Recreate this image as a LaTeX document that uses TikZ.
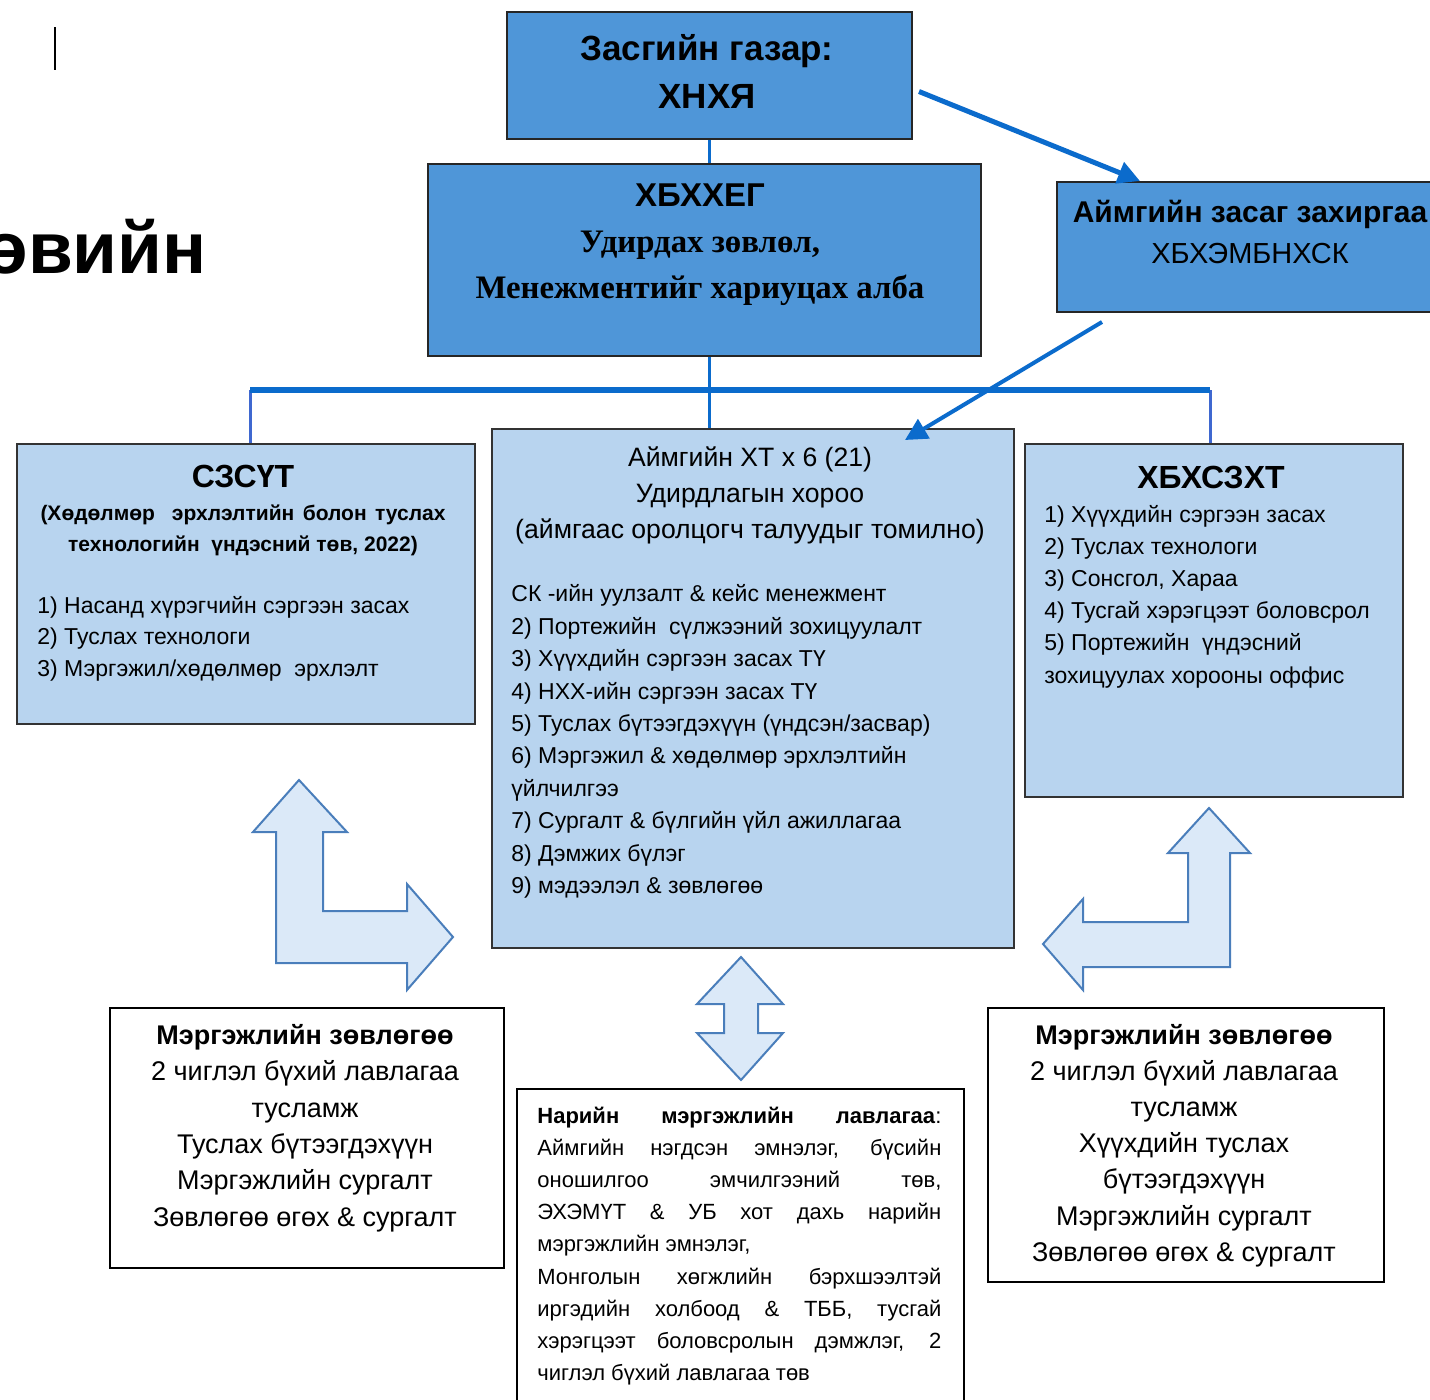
\documentclass[tikz,border=0pt]{standalone}
\usepackage{fontspec}
\setmainfont{Liberation Sans}
\newfontfamily\timesfont{Liberation Serif}
\usetikzlibrary{positioning,calc,arrows.meta}

\definecolor{govblue}{HTML}{4F96D8}
\definecolor{unitblue}{HTML}{B8D4EF}
\definecolor{linkblue}{HTML}{0B6BCC}
\definecolor{dropblue}{HTML}{3F68D0}
\definecolor{bendfill}{HTML}{DBE9F8}
\definecolor{benddraw}{HTML}{4A7EBB}

\newcommand{\fullline}[1]{\makebox[202pt][s]{#1}}

\tikzset{
  govbox/.style={draw=black!85, line width=1pt, fill=govblue, anchor=north west, inner sep=0pt},
  unitbox/.style={draw=black!80, line width=1pt, fill=unitblue, anchor=north west, inner sep=0pt},
  helpbox/.style={draw=black, line width=1pt, fill=white, anchor=north west, inner sep=0pt},
  link/.style={draw=linkblue, line width=1.5pt},
  drop/.style={draw=dropblue, line width=1.5pt},
  bus/.style={draw=linkblue, line width=2.75pt},
  feed/.style={draw=linkblue, line width=2.5pt, -{Triangle[length=11pt,width=11pt]}},
  bendarrow/.style={fill=bendfill, draw=benddraw, line width=1pt, line join=miter},
  txt/.style={inner sep=0pt, align=center},
  listtxt/.style={inner sep=0pt, align=left, anchor=west, font=\fontsize{11.5}{16.2}\selectfont},
}

\begin{document}
\begin{tikzpicture}[x=0.5pt,y=-0.5pt]
\fill[white] (0,0) rectangle (1430,1399);
\useasboundingbox (0,0) rectangle (1430,1399);

% slide remains on the left
\draw[line width=1pt] (55,27) -- (55,70);
\node[anchor=base west, inner sep=0pt, font=\bfseries\fontsize{36.5}{40}\selectfont] (heading) at (-17,273) {өвийн};

% upper level
\node[govbox, minimum width=202.5pt, minimum height=63.5pt] (gov) at (506,11) {};
\node[txt, font=\bfseries\fontsize{17.5}{24}\selectfont] (govtxt) at (707,71) {Засгийн газар:\\ХНХЯ};

\node[govbox, minimum width=276.5pt, minimum height=96pt] (council) at (427,163) {};
\node[txt, font=\fontsize{16.4}{23}\selectfont] (counciltxt) at (700,245)
  {{\bfseries\fontsize{16.5}{23}\selectfont ХБХХЕГ}\\{\timesfont\bfseries Удирдах зөвлөл,}\\{\timesfont\bfseries Менежментийг хариуцах алба}};

\node[govbox, minimum width=188pt, minimum height=65pt] (aimag) at (1056,181) {};
\node[txt, font=\fontsize{14.5}{20.5}\selectfont] (aimagtxt) at (1250,232)
  {{\bfseries\fontsize{15}{20.5}\selectfont Аймгийн засаг захиргаа}\\ХБХЭМБНХСК};

% middle level
\node[unitbox, minimum width=229pt, minimum height=140pt] (szsut) at (16,443) {};
\node[txt, font=\bfseries\fontsize{16}{20}\selectfont] (szsuttitle) at (243,476) {СЗСҮТ};
\node[txt, font=\bfseries\fontsize{10.5}{15.5}\selectfont] (szsutsub) at (243,530.5)
  {\makebox[202.5pt][s]{(Хөдөлмөр\ \ эрхлэлтийн болон туслах}\\технологийн\ \ үндэсний төв, 2022)};
\node[listtxt, font=\fontsize{11.5}{15.75}\selectfont] (szsutlist) at (37,638.5)
  {1) Насанд хүрэгчийн сэргээн засах\\2) Туслах технологи\\3) Мэргэжил/хөдөлмөр\ \ эрхлэлт};

\node[unitbox, minimum width=261pt, minimum height=259.5pt] (hub) at (491,428) {};
\node[txt, font=\fontsize{13.3}{18}\selectfont] (hubtitle) at (750,495)
  {Аймгийн ХТ x 6 (21)\\Удирдлагын хороо\\(аймгаас оролцогч талуудыг томилно)};
\node[listtxt] (hublist) at (511,741.5)
  {СК -ийн уулзалт \& кейс менежмент\\
   2) Портежийн\ \ сүлжээний зохицуулалт\\
   3) Хүүхдийн сэргээн засах ТҮ\\
   4) НХХ-ийн сэргээн засах ТҮ\\
   5) Туслах бүтээгдэхүүн (үндсэн/засвар)\\
   6) Мэргэжил \& хөдөлмөр эрхлэлтийн\\
   үйлчилгээ\\
   7) Сургалт \& бүлгийн үйл ажиллагаа\\
   8) Дэмжих бүлэг\\
   9) мэдээлэл \& зөвлөгөө};

\node[unitbox, minimum width=189pt, minimum height=176.5pt] (khbkh) at (1024,443) {};
\node[txt, font=\bfseries\fontsize{16}{20}\selectfont] (khbkhtitle) at (1211,477) {ХБХСЗХТ};
\node[listtxt, font=\fontsize{11.5}{16.1}\selectfont] (khbkhlist) at (1044,596.5)
  {1) Хүүхдийн сэргээн засах\\2) Туслах технологи\\3) Сонсгол,\ Хараа\\4) Тусгай хэрэгцээт боловсрол\\5) Портежийн\ \ үндэсний\\зохицуулах хорооны оффис};

% lower level
\node[helpbox, minimum width=197pt, minimum height=130pt] (helpL) at (109,1007) {};
\node[txt, font=\fontsize{13.5}{18.2}\selectfont] (helpLtxt) at (305,1128)
  {\textbf{Мэргэжлийн зөвлөгөө}\\2 чиглэл бүхий лавлагаа\\тусламж\\Туслах бүтээгдэхүүн\\Мэргэжлийн сургалт\\Зөвлөгөө өгөх \& сургалт};

\node[helpbox, minimum width=198pt, minimum height=137pt] (helpR) at (987,1007) {};
\node[txt, font=\fontsize{13.5}{18.1}\selectfont] (helpRtxt) at (1184,1145.5)
  {\textbf{Мэргэжлийн зөвлөгөө}\\2 чиглэл бүхий лавлагаа\\тусламж\\Хүүхдийн туслах\\бүтээгдэхүүн\\Мэргэжлийн сургалт\\Зөвлөгөө өгөх \& сургалт};

\node[helpbox, minimum width=223.5pt, minimum height=161pt] (refbox) at (516,1088) {};
\node[listtxt, font=\fontsize{11}{16.05}\selectfont] (reftxt) at (537,1246)
  {\fullline{\textbf{Нарийн мэргэжлийн лавлагаа}:}\\
   \fullline{Аймгийн нэгдсэн эмнэлэг, бүсийн}\\
   \fullline{оношилгоо эмчилгээний төв,}\\
   \fullline{ЭХЭМҮТ \& УБ хот дахь нарийн}\\
   мэргэжлийн эмнэлэг,\\
   \fullline{Монголын хөгжлийн бэрхшээлтэй}\\
   \fullline{иргэдийн холбоод \& ТББ, тусгай}\\
   \fullline{хэрэгцээт боловсролын дэмжлэг, 2}\\
   чиглэл бүхий лавлагаа төв};

% connectors
\draw[link] (gov.south) -- (gov.south |- council.north);
\draw[link] (gov.south |- council.south) -- (gov.south |- hub.north);
\coordinate (busy) at ([yshift=-16.5pt]council.south);
\draw[drop] ([xshift=2pt]szsut.north) -- ([xshift=2pt]szsut.north |- busy);
\draw[drop] ([xshift=-2pt]khbkh.north) -- ([xshift=-2pt]khbkh.north |- busy);
\draw[bus] ([xshift=2pt]szsut.north |- busy) -- ([xshift=-2pt]khbkh.north |- busy);
\draw[feed] ([xshift=3pt,yshift=-8pt]gov.east) -- ([xshift=42pt]aimag.north west);
\draw[feed, line width=2pt] ([xshift=23pt,yshift=-4.5pt]aimag.south west) -- ([xshift=-55pt,yshift=-6pt]hub.north east);

% block arrows
\draw[bendarrow] (299,780) -- (347,832) -- (323,832) -- (323,911) -- (407,911) -- (407,884) -- (453,937)
  -- (407,990) -- (407,963) -- (276,963) -- (276,832) -- (253,832) -- cycle;
\draw[bendarrow] (1209,808) -- (1250,853) -- (1230,853) -- (1230,967) -- (1083,967) -- (1083,990) -- (1043,944)
  -- (1083,899) -- (1083,922) -- (1188,922) -- (1188,853) -- (1168,853) -- cycle;
\draw[bendarrow] (741,957) -- (783,1004) -- (758,1004) -- (758,1033) -- (783,1033) -- (741,1080)
  -- (697,1033) -- (724,1033) -- (724,1004) -- (697,1004) -- cycle;
\end{tikzpicture}
\end{document}
